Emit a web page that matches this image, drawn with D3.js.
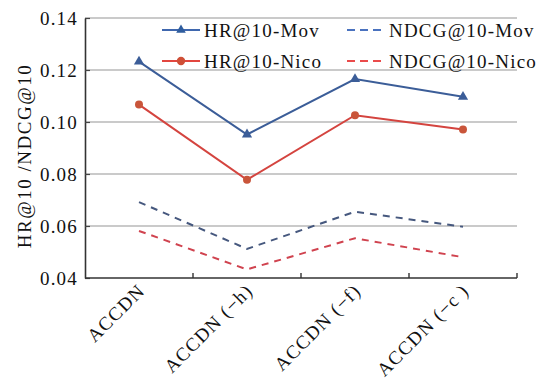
<!DOCTYPE html>
<html>
<head>
<meta charset="utf-8">
<script src="https://cdn.jsdelivr.net/npm/d3@7/dist/d3.min.js"></script>
<style>
  html, body { margin: 0; padding: 0; background: #fff; }
</style>
</head>
<body>
<svg id="chart" width="545" height="381"></svg>
<script>
// Model variants along the x axis
const categories = ["ACCDN", "ACCDN (\u2212h)", "ACCDN (\u2212f)", "ACCDN (\u2212c )"];

// Metric values per variant
const hrMov     = [0.1232, 0.0952, 0.1165, 0.1097];
const hrNico    = [0.1067, 0.0778, 0.1026, 0.0971];
const ndcgMov   = [0.0692, 0.0512, 0.0655, 0.0597];
const ndcgNico  = [0.0581, 0.0433, 0.0553, 0.0480];

const yTicks = [0.04, 0.06, 0.08, 0.10, 0.12, 0.14];
const seriesNames = ["HR@10-Mov", "HR@10-Nico", "NDCG@10-Mov", "NDCG@10-Nico"];

const FONT = "Liberation Serif";
const FS = 19;
const LS = 1.2;

const series = [
  { name: seriesNames[0], values: hrMov,    color: "#3b5d98", marker: "triangle", dashed: false, legendColor: "#3f67ae" },
  { name: seriesNames[1], values: hrNico,   color: "#d4443f", marker: "circle",   dashed: false, legendColor: "#e2463f", markerColor: "#c9553a" },
  { name: seriesNames[2], values: ndcgMov,  color: "#46587e", marker: null,       dashed: true,  legendColor: "#4a72bf" },
  { name: seriesNames[3], values: ndcgNico, color: "#d0434f", marker: null,       dashed: true,  legendColor: "#ea4b4b" }
];

const svg = d3.select("#chart");
const margin = { left: 85, right: 28, top: 18, bottom: 103 };
const W = 545, H = 381;

const x = d3.scaleBand().domain(categories).range([margin.left, W - margin.right]);
const y = d3.scaleLinear().domain([0.04, 0.14]).range([H - margin.bottom, margin.top]);

// Horizontal gridlines (0.06 up to the top edge)
svg.append("g").selectAll("line").data(yTicks.slice(1)).join("line")
  .attr("x1", margin.left).attr("x2", W - margin.right)
  .attr("y1", d => y(d)).attr("y2", d => y(d))
  .attr("stroke", "#b8b8b8").attr("stroke-width", 1.5);

// Y axis with inward ticks
const yAxis = svg.append("g").attr("transform", `translate(${margin.left},0)`)
  .call(d3.axisLeft(y).tickValues(yTicks).tickFormat(d3.format(".2f")).tickSizeInner(-5).tickSizeOuter(0).tickPadding(7));
yAxis.attr("font-family", FONT);
yAxis.select(".domain").attr("stroke", "#333").attr("stroke-width", 1.6);
yAxis.selectAll(".tick line").attr("stroke", "#444").attr("stroke-width", 1.2);
yAxis.selectAll(".tick text")
  .attr("font-size", FS).attr("font-family", FONT).attr("letter-spacing", LS)
  .attr("fill", "#111").attr("dy", "0.36em");

// X axis with inward ticks on band edges
const xAxisG = svg.append("g").attr("transform", `translate(0,${y(0.04)})`);
xAxisG.append("line")
  .attr("x1", margin.left).attr("x2", W - margin.right)
  .attr("stroke", "#333").attr("stroke-width", 1.6);
xAxisG.selectAll(".edge").data(categories).join("line")
  .attr("class", "edge")
  .attr("x1", d => x(d) + x.bandwidth())
  .attr("x2", d => x(d) + x.bandwidth())
  .attr("y1", 0).attr("y2", -5)
  .attr("stroke", "#333").attr("stroke-width", 1.4);
xAxisG.selectAll("text").data(categories).join("text")
  .attr("transform", d => `translate(${x(d) + x.bandwidth() / 2 + 7},${14}) rotate(-45)`)
  .attr("text-anchor", "end")
  .attr("font-family", FONT)
  .attr("font-size", FS)
  .attr("letter-spacing", LS)
  .attr("fill", "#111")
  .text(d => d);

// Y axis title
svg.append("text")
  .attr("transform", `translate(31,${156}) rotate(-90)`)
  .attr("text-anchor", "middle")
  .attr("font-family", FONT)
  .attr("font-size", FS)
  .attr("letter-spacing", 1.5)
  .attr("fill", "#111")
  .text("HR@10 /NDCG@10");

// Series lines and markers
const line = d3.line()
  .x((d, i) => x(categories[i]) + x.bandwidth() / 2)
  .y(d => y(d));

series.forEach(s => {
  svg.append("path")
    .attr("d", line(s.values))
    .attr("fill", "none")
    .attr("stroke", s.color)
    .attr("stroke-width", 2)
    .attr("stroke-dasharray", s.dashed ? "7,6" : null);
  if (s.marker) {
    const sym = d3.symbol().type(s.marker === "triangle" ? d3.symbolTriangle : d3.symbolCircle)
      .size(s.marker === "triangle" ? 45 : 50);
    svg.append("g").selectAll("path").data(s.values).join("path")
      .attr("transform", (d, i) => `translate(${x(categories[i]) + x.bandwidth() / 2},${y(d)})`)
      .attr("d", sym)
      .attr("fill", s.markerColor || s.color);
  }
});

// Legend
const legendPos = [
  { lx: 162, ty: 30 }, { lx: 162, ty: 61 },
  { lx: 347, ty: 30 }, { lx: 347, ty: 61 }
];
series.forEach((s, i) => {
  const p = legendPos[i];
  const g = svg.append("g");
  g.append("line")
    .attr("x1", p.lx).attr("x2", p.lx + 38)
    .attr("y1", p.ty).attr("y2", p.ty)
    .attr("stroke", s.legendColor).attr("stroke-width", 2.2)
    .attr("stroke-dasharray", s.dashed ? "8,5" : null);
  if (s.marker) {
    const sym = d3.symbol().type(s.marker === "triangle" ? d3.symbolTriangle : d3.symbolCircle)
      .size(s.marker === "triangle" ? 40 : 55);
    g.append("path").attr("transform", `translate(${p.lx + 19},${p.ty})`).attr("d", sym)
      .attr("fill", s.marker === "triangle" ? "#2f5d9e" : "#cf4f37");
  }
  g.append("text")
    .attr("x", p.lx + 42).attr("y", p.ty + 7)
    .attr("font-family", FONT)
    .attr("font-size", FS)
    .attr("letter-spacing", LS)
    .attr("fill", "#111")
    .text(s.name);
});
</script>
</body>
</html>
